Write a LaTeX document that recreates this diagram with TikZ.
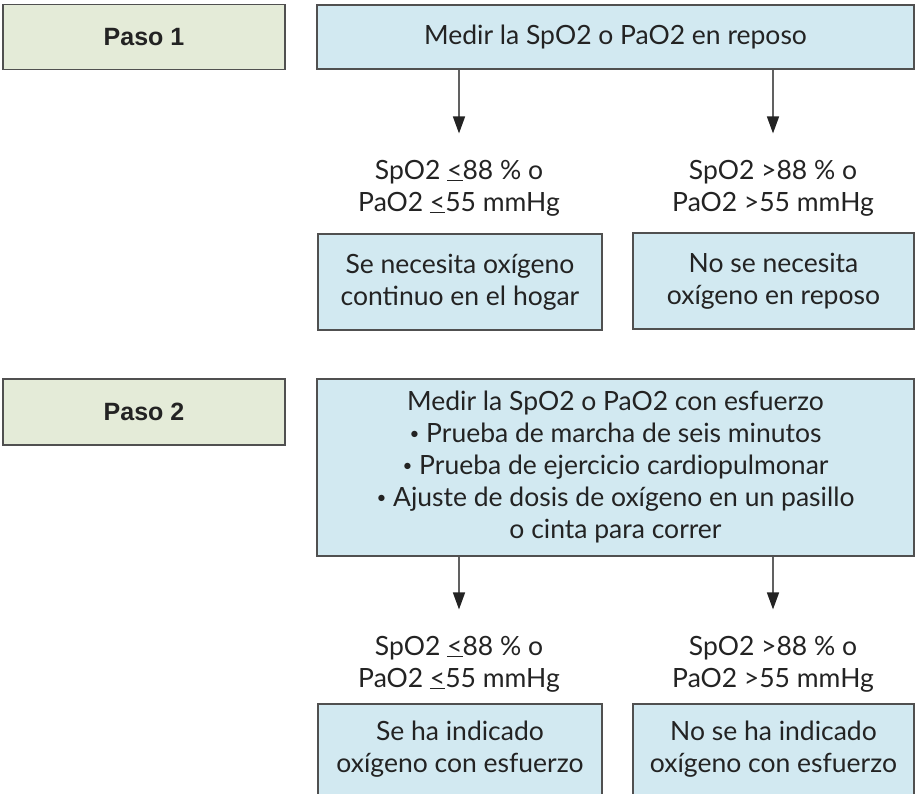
\documentclass[tikz,border=0pt]{standalone}
\usepackage{fontspec}
\setmainfont{Lato}
\newfontfamily\pasofont{Liberation Sans}
\usetikzlibrary{arrows.meta,positioning}

\definecolor{pasogreen}{RGB}{228,235,216}
\definecolor{pasoblue}{RGB}{210,233,241}
\definecolor{rim}{RGB}{80,80,80}
\definecolor{ink}{RGB}{35,35,35}
\newcommand{\leqs}{\underline{<}}
\newcommand{\vineta}{\raisebox{3pt}{\fontsize{17}{32}\selectfont\textbullet}}

\begin{document}
\begin{tikzpicture}[
        x=1pt, y=-1pt,
        every node/.style={text=ink, align=center, font=\fontsize{26.5}{32}\selectfont},
        stepbox/.style={draw=rim, line width=1.5pt, fill=pasogreen, minimum width=282pt,
            minimum height=65pt, font=\pasofont\bfseries\fontsize{25}{32}\selectfont},
        bluebox/.style={draw=rim, line width=1.5pt, fill=pasoblue, inner sep=0pt},
        arr/.style={draw=rim!90, line width=1.5pt,
            -{Triangle[width=12pt,length=17pt,color=ink]}, shorten >=23pt}
    ]

    \clip (0,0) rectangle (919,794);

    % paso 1
    \node[stepbox] (paso1) at (144,37) {Paso 1};
    \node[bluebox, minimum width=597pt, minimum height=64pt] (medir1) at (615.5,37)
        {Medir la SpO2 o PaO2 en reposo};

    \node[bluebox, minimum width=284pt, minimum height=96pt] (res1) at (460,282)
        {Se necesita oxígeno\\continuo en el hogar};
    \node[bluebox, minimum width=281pt, minimum height=96pt] (res2) at (773.5,281)
        {No se necesita\\oxígeno en reposo};

    % paso 2
    \node[stepbox, minimum height=66pt] (paso2) at (144,412) {Paso 2};
    \node[bluebox, minimum width=597pt, minimum height=177pt] (medir2) at (615.5,467.5)
        {Medir la SpO2 o PaO2 con esfuerzo\\
         \vineta{} Prueba de marcha de seis minutos\\
         \vineta{} Prueba de ejercicio cardiopulmonar\\
         \vineta{} Ajuste de dosis de oxígeno en un pasillo\\
         o cinta para correr};

    \node[bluebox, minimum width=284pt, minimum height=120pt, anchor=north] (res3) at (460,703) {};
    \node[bluebox, minimum width=281pt, minimum height=120pt, anchor=north] (res4) at (773.5,703) {};
    \node (res3txt) at (res3.north) [yshift=-46pt] {Se ha indicado\\oxígeno con esfuerzo};
    \node (res4txt) at (res4.north) [yshift=-46pt] {No se ha indicado\\oxígeno con esfuerzo};

    % umbrales
    \foreach \nm/\xx/\yy/\sg in {cond1/459/188/\leqs, cond2/773/188/>,
                                 cond3/459/664/\leqs, cond4/773/664/>} {
        \node (\nm) at (\xx,\yy) {SpO2 \sg88 \% o\\PaO2 \sg55 mmHg};
    }

    \foreach \from/\to in {medir1/cond1, medir1/cond2, medir2/cond3, medir2/cond4}
        \draw[arr] (\from.south -| \to.north) -- (\to.north);
\end{tikzpicture}
\end{document}
